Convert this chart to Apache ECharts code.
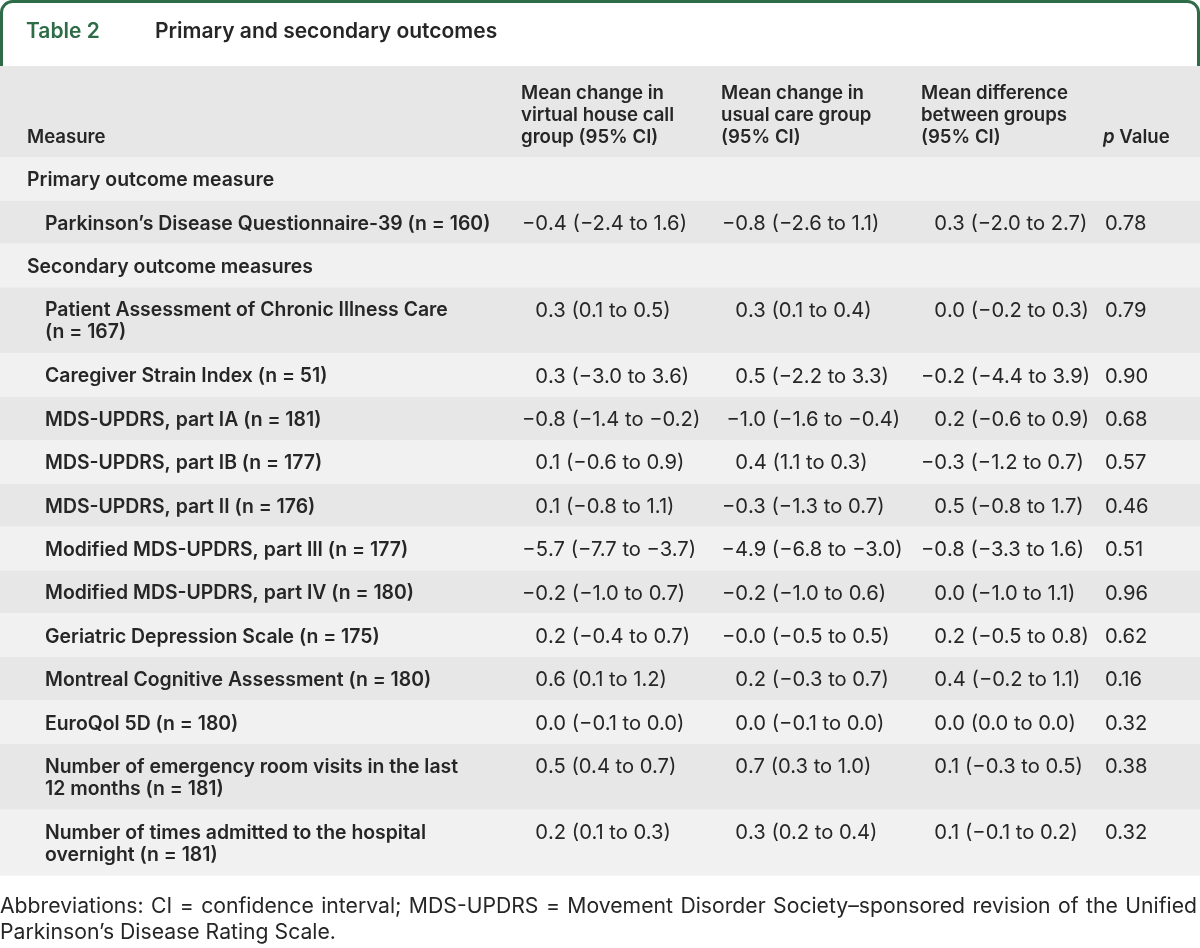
<!DOCTYPE html>
<html><head><meta charset="utf-8">
<script src="https://cdn.jsdelivr.net/npm/echarts@6/dist/echarts.min.js"></script>
<style>html,body{margin:0;padding:0;background:#fff}#c{width:1200px;height:948px}</style>
</head><body><div id="c"></div>
<script>
// ---------- DATA ----------
const tableNumber = 'Table 2';
const tableTitle = 'Primary and secondary outcomes';
const headers = ['Measure', 'Mean change in\nvirtual house call\ngroup (95% CI)', 'Mean change in\nusual care group\n(95% CI)', 'Mean difference\nbetween groups\n(95% CI)', '{i|p} Value'];
const measures = [
  'Primary outcome measure',
  'Parkinson\u2019s Disease Questionnaire-39 (n = 160)',
  'Secondary outcome measures',
  'Patient Assessment of Chronic Illness Care\n(n = 167)',
  'Caregiver Strain Index (n = 51)',
  'MDS-UPDRS, part IA (n = 181)',
  'MDS-UPDRS, part IB (n = 177)',
  'MDS-UPDRS, part II (n = 176)',
  'Modified MDS-UPDRS, part III (n = 177)',
  'Modified MDS-UPDRS, part IV (n = 180)',
  'Geriatric Depression Scale (n = 175)',
  'Montreal Cognitive Assessment (n = 180)',
  'EuroQol 5D (n = 180)',
  'Number of emergency room visits in the last\n12 months (n = 181)',
  'Number of times admitted to the hospital\novernight (n = 181)'
];
const rowType = ['section','item','section','item','item','item','item','item','item','item','item','item','item','item','item'];
const vhcMean = [null, -0.4, null, 0.3, 0.3, -0.8, 0.1, 0.1, -5.7, -0.2, 0.2, 0.6, 0.0, 0.5, 0.2];
const vhcLow  = [null, -2.4, null, 0.1, -3.0, -1.4, -0.6, -0.8, -7.7, -1.0, -0.4, 0.1, -0.1, 0.4, 0.1];
const vhcHigh = [null, 1.6, null, 0.5, 3.6, -0.2, 0.9, 1.1, -3.7, 0.7, 0.7, 1.2, 0.0, 0.7, 0.3];
const ucMean  = [null, -0.8, null, 0.3, 0.5, -1.0, 0.4, -0.3, -4.9, -0.2, -0.0, 0.2, 0.0, 0.7, 0.3];
const ucLow   = [null, -2.6, null, 0.1, -2.2, -1.6, 1.1, -1.3, -6.8, -1.0, -0.5, -0.3, -0.1, 0.3, 0.2];
const ucHigh  = [null, 1.1, null, 0.4, 3.3, -0.4, 0.3, 0.7, -3.0, 0.6, 0.5, 0.7, 0.0, 1.0, 0.4];
const diffMean = [null, 0.3, null, 0.0, -0.2, 0.2, -0.3, 0.5, -0.8, 0.0, 0.2, 0.4, 0.0, 0.1, 0.1];
const diffLow  = [null, -2.0, null, -0.2, -4.4, -0.6, -1.2, -0.8, -3.3, -1.0, -0.5, -0.2, 0.0, -0.3, -0.1];
const diffHigh = [null, 2.7, null, 0.3, 3.9, 0.9, 0.7, 1.7, 1.6, 1.1, 0.8, 1.1, 0.0, 0.5, 0.2];
const pValues  = [null, 0.78, null, 0.79, 0.90, 0.68, 0.57, 0.46, 0.51, 0.96, 0.62, 0.16, 0.32, 0.38, 0.32];
const footnoteLines = [
  'Abbreviations: CI = confidence interval; MDS-UPDRS = Movement Disorder Society\u2013sponsored revision of the Unified',
  'Parkinson\u2019s Disease Rating Scale.'
];

// ---------- STYLE / LAYOUT ----------
const GREEN = '#2d6c47', TEXT = '#262626';
const HEADER_BG = '#e6e7e6', LIGHT = '#f1f1f1', DARK = '#e6e7e6';
const FF = 'Inter, "Noto Sans", Roboto, sans-serif';
const LABEL_FONT = '600 19.4px ' + FF;
const HEAD_FONT = '600 18.6px ' + FF;
const VALUE_FONT = '400 20.2px ' + FF;
const ROW_H = 43.4, LINE_EXTRA = 22.6, HEADER_H = 91, TABLE_TOP = 66;
const TEXT_MID = 23.3;
const COL_X = [27, 521, 721, 921, 1103];
const DEC_X = [548, 748, 947];
const P_X = 1105;

function fmt(v) {
  const neg = v < 0 || Object.is(v, -0);
  return (neg ? '\u2212' : '') + Math.abs(v).toFixed(1);
}
function cellText(m, lo, hi) { return fmt(m) + ' (' + fmt(lo) + ' to ' + fmt(hi) + ')'; }

const lineCounts = measures.map(m => m.split('\n').length);
const tops = [], bottoms = [];
let acc = HEADER_H;
lineCounts.forEach(n => { tops.push(acc); acc += ROW_H + (n - 1) * LINE_EXTRA; bottoms.push(acc); });
const TOTAL = acc;

function txt(x, y, text, font, align, valign, extra) {
  return {
    type: 'text', x: x, y: y,
    style: Object.assign({ text: text, font: font, fill: TEXT, align: align, textAlign: align,
      verticalAlign: valign, textVerticalAlign: valign, lineHeight: 22 }, extra || {})
  };
}

function renderHeader(params, api) {
  const a = api.coord([0, 0]), b = api.coord([1200, HEADER_H]);
  const children = [{ type: 'rect', shape: { x: a[0], y: a[1], width: b[0] - a[0], height: b[1] - a[1] }, style: { fill: HEADER_BG } }];
  const bottomY = api.coord([0, 82.5])[1];
  headers.forEach((h, k) => {
    const x = api.coord([COL_X[k], 0])[0];
    children.push(txt(x, bottomY, h, HEAD_FONT, 'left', 'bottom', {
      rich: { i: { font: 'italic 600 18.6px ' + FF, fill: TEXT } }
    }));
  });
  return { type: 'group', children: children };
}

function renderRow(params, api) {
  const i = api.value(0);
  const a = api.coord([0, api.value(1)]), b = api.coord([1200, api.value(2)]);
  const children = [{ type: 'rect', shape: { x: a[0], y: a[1], width: b[0] - a[0], height: b[1] - a[1] }, style: { fill: i % 2 === 0 ? LIGHT : DARK } }];
  const isSec = rowType[i] === 'section';
  const lx = api.coord([isSec ? 27 : 45, 0])[0];
  children.push(txt(lx, a[1] + TEXT_MID - 11, measures[i], LABEL_FONT, 'left', 'top'));
  if (!isSec) {
    const cy = a[1] + TEXT_MID;
    const cells = [cellText(vhcMean[i], vhcLow[i], vhcHigh[i]), cellText(ucMean[i], ucLow[i], ucHigh[i]), cellText(diffMean[i], diffLow[i], diffHigh[i])];
    cells.forEach((c, k) => {
      const d = c.indexOf('.');
      const x = api.coord([DEC_X[k], 0])[0];
      children.push(txt(x, cy, c.slice(0, d), VALUE_FONT, 'right', 'middle'));
      children.push(txt(x, cy, c.slice(d), VALUE_FONT, 'left', 'middle'));
    });
    children.push(txt(api.coord([P_X, 0])[0], cy, pValues[i].toFixed(2), VALUE_FONT, 'left', 'middle'));
  }
  return { type: 'group', children: children };
}

// footnote: justify first line by word spacing
const FOOT_FONT = '400 21.2px ' + FF;
const cv = document.createElement('canvas').getContext('2d');
cv.font = FOOT_FONT;
const footGraphics = [];
footnoteLines.forEach((line, li) => {
  const y = 907 + li * 25.5;
  if (li === 0) {
    const words = line.split(' ');
    const widths = words.map(w => cv.measureText(w).width);
    const sum = widths.reduce((s, w) => s + w, 0);
    const gap = (1197 - sum) / (words.length - 1);
    let x = 0;
    words.forEach((w, k) => {
      footGraphics.push({ type: 'text', x: x, y: y, style: { text: w, font: FOOT_FONT, fill: TEXT, textVerticalAlign: 'middle', verticalAlign: 'middle' } });
      x += widths[k] + gap;
    });
  } else {
    footGraphics.push({ type: 'text', x: 0, y: y, style: { text: line, font: FOOT_FONT, fill: TEXT, textVerticalAlign: 'middle', verticalAlign: 'middle' } });
  }
});

const chart = echarts.init(document.getElementById('c'), null, { renderer: 'canvas' });
chart.setOption({
  animation: false,
  backgroundColor: '#ffffff',
  grid: { left: 0, width: 1200, top: TABLE_TOP, height: TOTAL },
  xAxis: { type: 'value', min: 0, max: 1200, show: false },
  yAxis: { type: 'value', min: 0, max: TOTAL, inverse: true, show: false },
  graphic: [
    { type: 'rect', z: 0, shape: { x: 1.5, y: 1.5, width: 1197, height: 80, r: [11, 11, 0, 0] }, style: { fill: '#fff', stroke: GREEN, lineWidth: 3 } },
    { type: 'text', z: 1, x: 26, y: 32, style: { text: tableNumber, font: '600 21px ' + FF, fill: GREEN, textVerticalAlign: 'middle', verticalAlign: 'middle' } },
    { type: 'text', z: 1, x: 155, y: 32, style: { text: tableTitle, font: '600 21px ' + FF, fill: TEXT, textVerticalAlign: 'middle', verticalAlign: 'middle' } }
  ].concat(footGraphics),
  series: [
    { type: 'custom', z: 3, coordinateSystem: 'cartesian2d', renderItem: renderHeader, data: [[0, 0, HEADER_H]], silent: true },
    { type: 'custom', z: 3, coordinateSystem: 'cartesian2d', renderItem: renderRow, data: measures.map((m, i) => [i, tops[i], bottoms[i]]), silent: true }
  ]
});
</script></body></html>
